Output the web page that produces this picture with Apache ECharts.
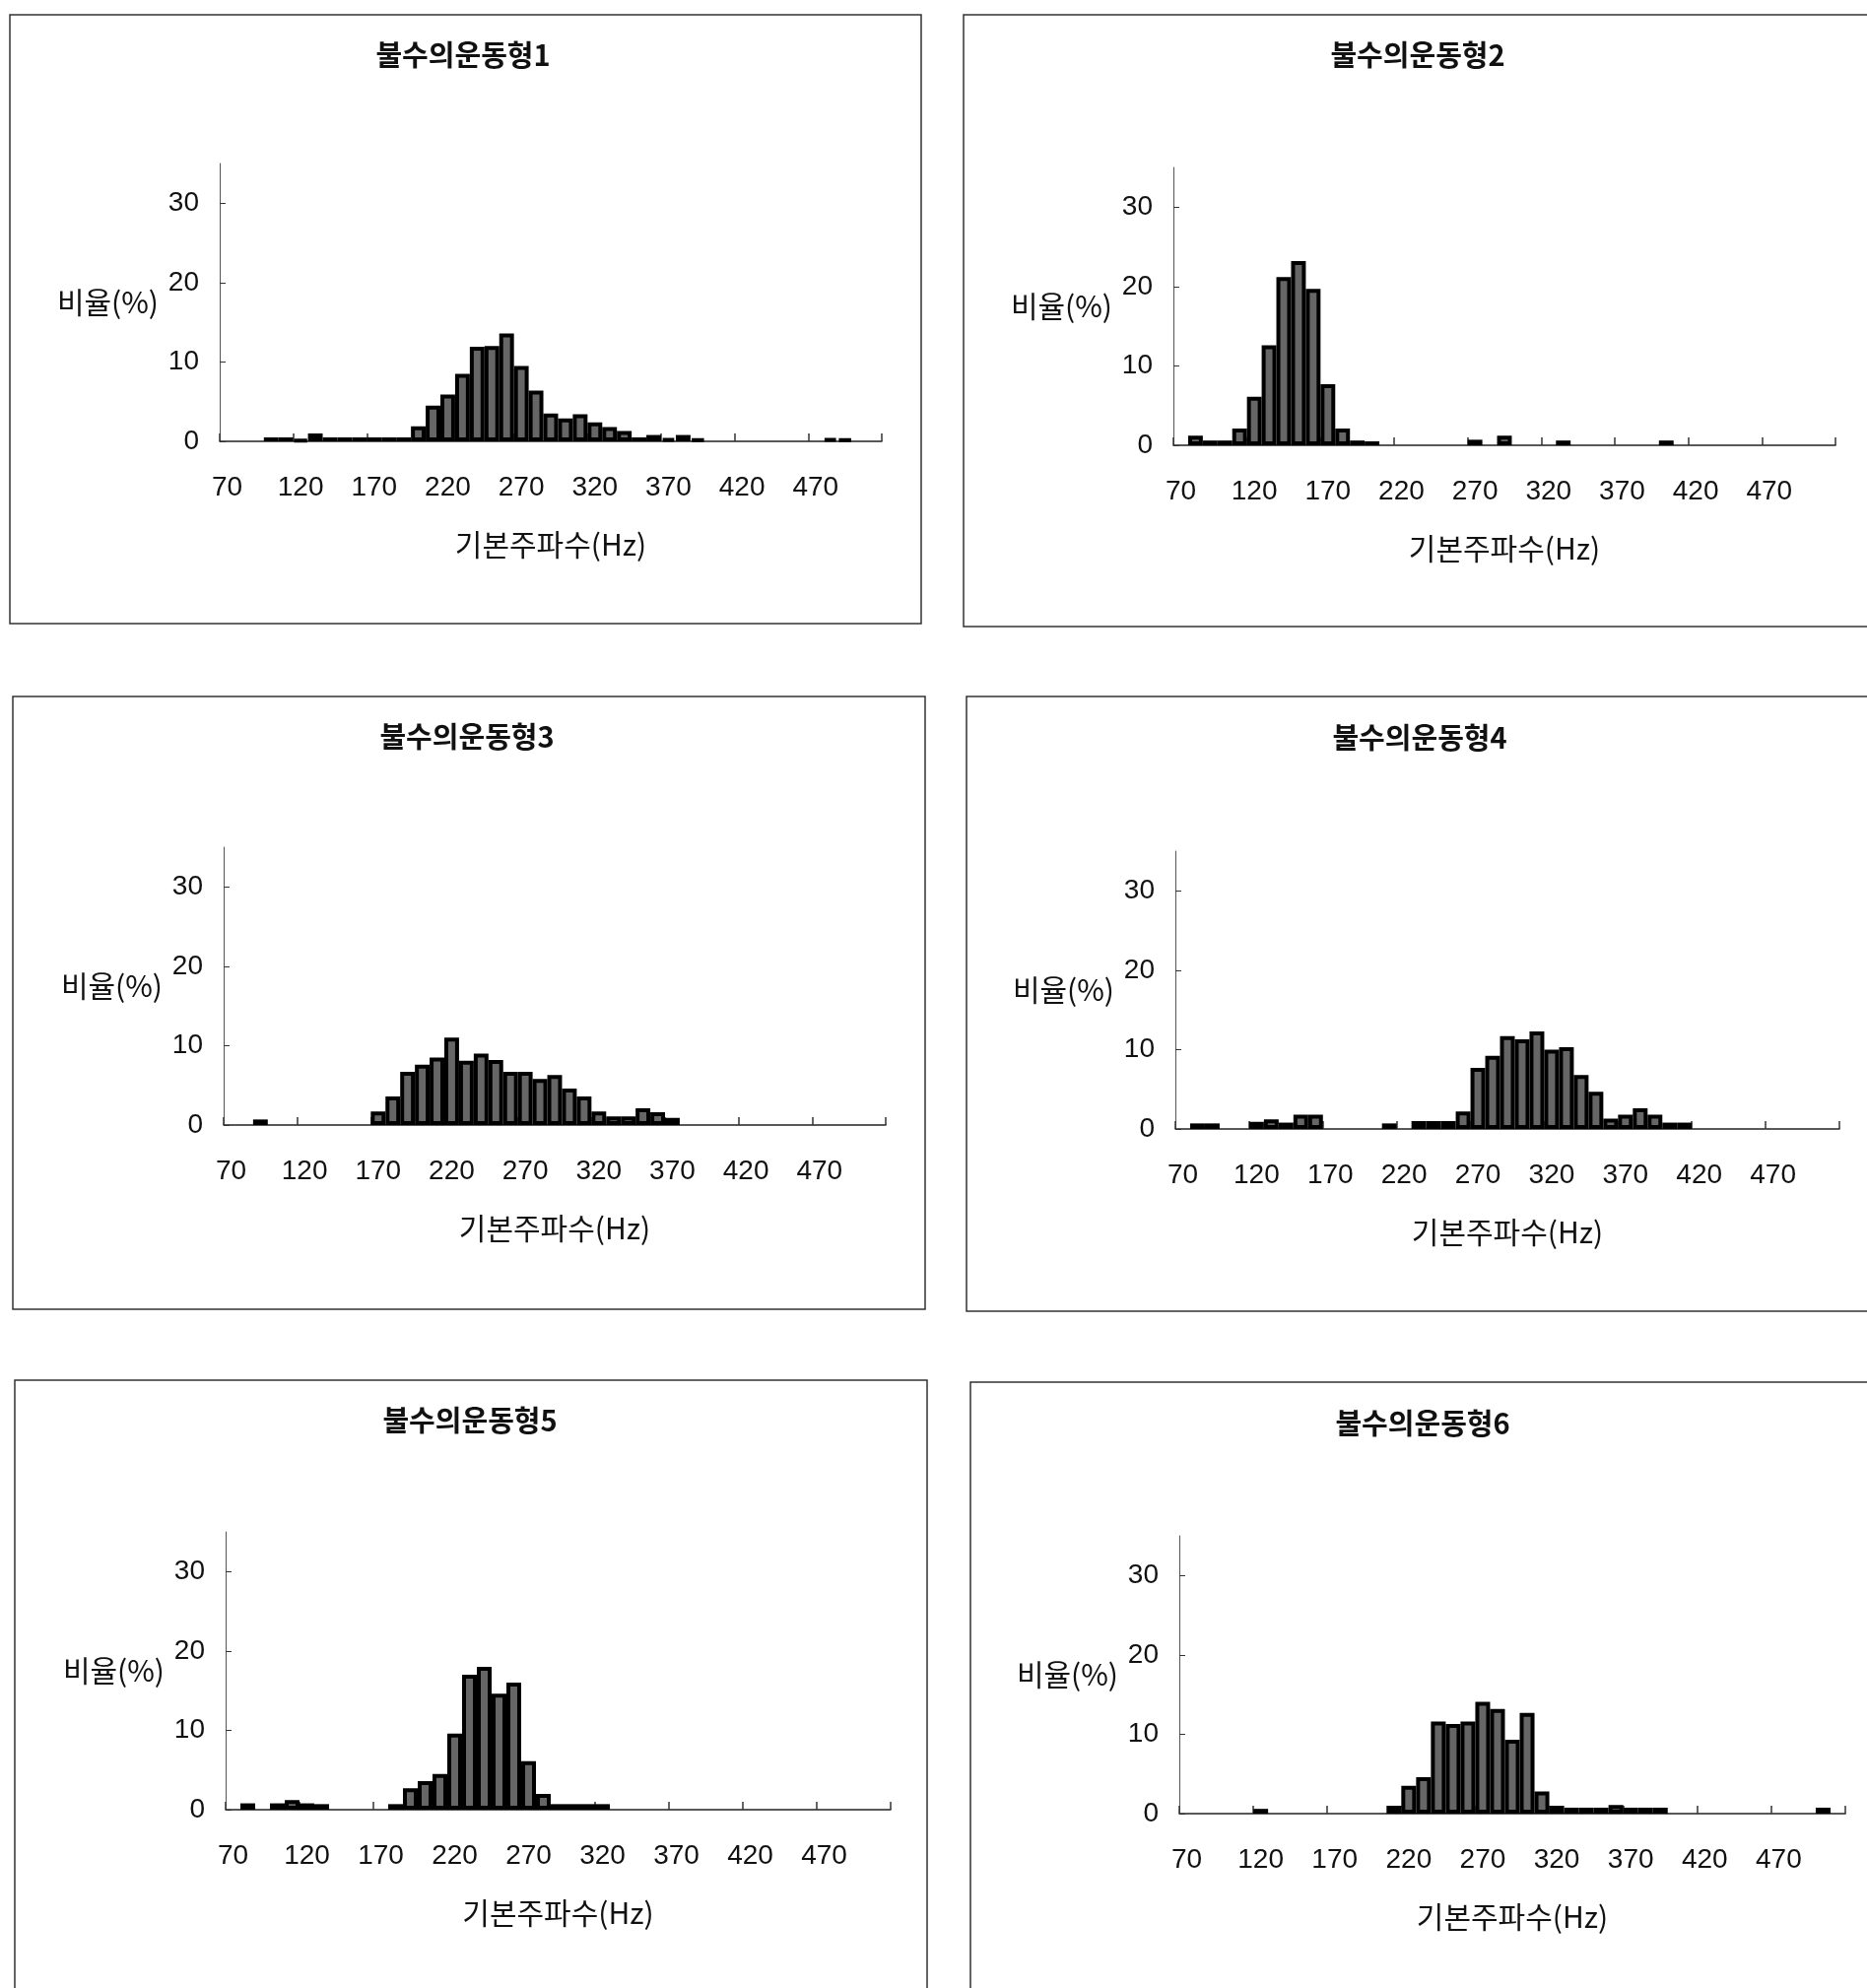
<!DOCTYPE html>
<html>
<head>
<meta charset="utf-8">
<script src="https://cdn.jsdelivr.net/npm/echarts/dist/echarts.min.js"></script>
<style>
  html, body { margin: 0; padding: 0; background: #fff; }
  #chart { width: 1895px; height: 2018px; }
</style>
</head>
<body>
<div id="chart"></div>
<script>
// fundamental frequency bins (Hz), 10 Hz wide
const hz = [70, 80, 90, 100, 110, 120, 130, 140, 150, 160,
            170, 180, 190, 200, 210, 220, 230, 240, 250, 260,
            270, 280, 290, 300, 310, 320, 330, 340, 350, 360,
            370, 380, 390, 400, 410, 420, 430, 440, 450, 460,
            470, 480, 490, 500, 510];

// 비율(%) per bin, one array per type
const type1 = [0, 0, 0, 0.5, 0.5, 0.2, 1.0, 0.5, 0.5, 0.5,
               0.5, 0.5, 0.5, 1.9, 4.5, 5.9, 8.5, 11.9, 12.0, 13.6,
               9.5, 6.4, 3.5, 2.9, 3.4, 2.4, 1.8, 1.3, 0.5, 0.8,
               0.4, 0.8, 0.3, 0, 0, 0, 0, 0, 0, 0,
               0, 0.4, 0.3, 0, 0];
const type2 = [0, 1.2, 0.6, 0.6, 2.1, 6.1, 12.6, 21.2, 23.2, 19.7,
               7.7, 2.1, 0.6, 0.5, 0, 0, 0, 0, 0, 0,
               0.7, 0, 1.2, 0, 0, 0, 0.6, 0, 0, 0,
               0, 0, 0, 0.6, 0, 0, 0, 0, 0, 0,
               0, 0, 0, 0, 0];
const type3 = [0, 0, 0.7, 0, 0, 0, 0, 0, 0, 0,
               1.7, 3.6, 6.7, 7.6, 8.5, 11.0, 8.1, 9.0, 8.2, 6.7,
               6.7, 5.8, 6.3, 4.6, 3.6, 1.7, 1.1, 1.1, 2.1, 1.6,
               0.9, 0, 0, 0, 0, 0, 0, 0, 0, 0,
               0, 0, 0, 0, 0];
const type4 = [0, 0.7, 0.7, 0, 0, 0.9, 1.2, 0.8, 1.8, 1.8,
               0, 0, 0, 0, 0.7, 0, 1.0, 1.0, 1.0, 2.2,
               7.7, 9.2, 11.7, 11.3, 12.3, 10.0, 10.3, 6.8, 4.7, 1.3,
               1.8, 2.6, 1.8, 0.8, 0.8, 0, 0, 0, 0, 0,
               0, 0, 0, 0, 0];
const type5 = [0, 0.8, 0, 0.8, 1.2, 0.8, 0.7, 0, 0, 0,
               0, 0.7, 2.7, 3.6, 4.5, 9.6, 17.0, 18.0, 14.6, 16.0,
               6.1, 2.0, 0.7, 0.7, 0.7, 0.7, 0, 0, 0, 0,
               0, 0, 0, 0, 0, 0, 0, 0, 0, 0,
               0, 0, 0, 0, 0];
const type6 = [0, 0, 0, 0, 0, 0.6, 0, 0, 0, 0,
               0, 0, 0, 0, 1.0, 3.5, 4.6, 11.6, 11.3, 11.6,
               14.1, 13.2, 9.3, 12.7, 2.8, 1.0, 0.75, 0.75, 0.75, 1.1,
               0.75, 0.75, 0.75, 0, 0, 0, 0, 0, 0, 0,
               0, 0, 0, 0.75, 0];

const titles = ['불수의운동형1', '불수의운동형2', '불수의운동형3',
                '불수의운동형4', '불수의운동형5', '불수의운동형6'];
const yTicks = [0, 10, 20, 30];
const allTypes = [type1, type2, type3, type4, type5, type6];

// layout of the six panels (px)
const grids = [
  { left: 223,  top: 166,  width: 672, height: 282 },
  { left: 1191, top: 170,  width: 672, height: 282 },
  { left: 227,  top: 860,  width: 672, height: 282 },
  { left: 1193, top: 864,  width: 674, height: 282 },
  { left: 229,  top: 1555, width: 675, height: 282 },
  { left: 1197, top: 1559, width: 676, height: 282 }
];
const titlePos = [[470, 41], [1439, 41], [474, 733], [1441, 734], [477, 1427], [1444, 1430]];

const cjk = '"Noto Sans CJK KR", "Noto Sans", sans-serif';
const num = '"Liberation Sans", Arial, sans-serif';

const chart = echarts.init(document.getElementById('chart'));

const frameStyle = { stroke: '#333', lineWidth: 1.5, fill: null };

const option = {
  animation: false,
  backgroundColor: '#fff',
  title: titles.map((t, i) => ({
    text: t,
    left: titlePos[i][0],
    top: titlePos[i][1],
    textAlign: 'center',
    padding: 0,
    textStyle: { fontFamily: cjk, fontSize: 29, fontWeight: 'bold', color: '#111' }
  })),
  grid: grids.map(g => Object.assign({ containLabel: false }, g)),
  xAxis: grids.map((g, i) => ({
    type: 'category',
    gridIndex: i,
    data: hz,
    boundaryGap: true,
    name: '기본주파수(Hz)',
    nameLocation: 'middle',
    nameGap: 90,
    nameTextStyle: { fontFamily: cjk, fontSize: 30, color: '#111' },
    axisLine: { show: true, lineStyle: { color: '#222', width: 1.5 } },
    axisTick: { show: true, interval: 4, inside: true, length: 8, lineStyle: { color: '#333', width: 1.5 } },
    axisLabel: { interval: 4, margin: 33, fontFamily: num, fontSize: 28, color: '#111' },
    splitLine: { show: false }
  })),
  yAxis: grids.map((g, i) => ({
    type: 'value',
    gridIndex: i,
    min: 0,
    max: 35,
    name: '비율(%)',
    nameLocation: 'middle',
    nameRotate: 0,
    nameGap: 62,
    nameTextStyle: { fontFamily: cjk, fontSize: 30, color: '#111' },
    axisLine: { show: true, lineStyle: { color: '#555', width: 1 } },
    axisTick: { show: true, inside: true, length: 6, customValues: yTicks, lineStyle: { color: '#333' } },
    axisLabel: { margin: 21, customValues: yTicks, fontFamily: num, fontSize: 28, color: '#111' },
    splitLine: { show: false }
  })),
  series: allTypes.map((d, i) => ({
    type: 'bar',
    xAxisIndex: i,
    yAxisIndex: i,
    barCategoryGap: '0%',
    data: d.map(v => (v === 0 ? '-' : v)),
    itemStyle: { color: '#666', borderColor: '#000', borderWidth: 4 },
    silent: true
  })),
  graphic: [
    { type: 'rect', shape: { x: 10, y: 15, width: 925, height: 618 }, style: frameStyle, silent: true },
    { type: 'polyline', shape: { points: [[1900, 15], [978, 15], [978, 636], [1900, 636]] }, style: frameStyle, silent: true },
    { type: 'rect', shape: { x: 13, y: 707, width: 926, height: 622 }, style: frameStyle, silent: true },
    { type: 'polyline', shape: { points: [[1900, 707], [981, 707], [981, 1331], [1900, 1331]] }, style: frameStyle, silent: true },
    { type: 'polyline', shape: { points: [[15, 2030], [15, 1401], [941, 1401], [941, 2030]] }, style: frameStyle, silent: true },
    { type: 'polyline', shape: { points: [[985, 2030], [985, 1403], [1900, 1403]] }, style: frameStyle, silent: true }
  ]
};

chart.setOption(option);
</script>
</body>
</html>
